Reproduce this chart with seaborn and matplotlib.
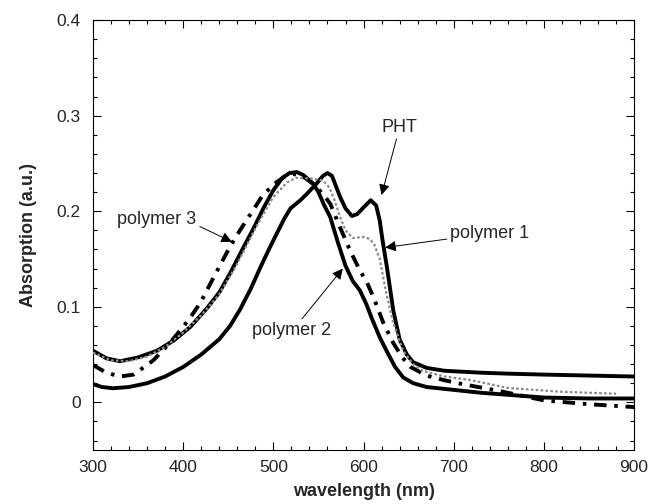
import matplotlib
matplotlib.use("Agg")
import matplotlib.pyplot as plt
import seaborn as sns
from matplotlib.ticker import MultipleLocator

# ---- data ----
pht_x = [300, 310, 322, 340, 360, 380, 400, 420, 440, 452, 463, 475, 485, 495, 504, 512, 519, 530, 538, 548, 555, 560,
         565, 574, 580, 587, 593, 600, 608, 614, 618, 621, 626, 633, 640, 648, 655, 670, 690, 730, 760, 800, 850, 900]
pht_y = [0.019, 0.016, 0.0147, 0.016, 0.020, 0.027, 0.037, 0.050, 0.066, 0.080, 0.097, 0.119, 0.140, 0.160, 0.177, 0.192,
         0.203, 0.2115, 0.219, 0.229, 0.237, 0.240, 0.237, 0.215, 0.203, 0.195, 0.197, 0.204, 0.2115, 0.206, 0.190, 0.170,
         0.141, 0.096, 0.066, 0.050, 0.042, 0.036, 0.033, 0.031, 0.030, 0.029, 0.028, 0.027]

p1_x = [300, 320, 340, 360, 380, 400, 420, 440, 460, 480, 500, 515, 525, 545, 555, 562, 568, 574, 580, 588, 600, 607,
        612, 618, 625, 633, 644, 655, 665, 690, 720, 760, 820, 880]
p1_y = [0.052, 0.044, 0.043, 0.048, 0.058, 0.073, 0.091, 0.113, 0.145, 0.182, 0.215, 0.230, 0.235, 0.234, 0.232, 0.225,
        0.211, 0.194, 0.180, 0.172, 0.173, 0.171, 0.165, 0.150, 0.115, 0.083, 0.054, 0.040, 0.033, 0.027, 0.023, 0.015,
        0.011, 0.009]

p2_x = [300, 315, 330, 350, 371, 390, 408, 426, 440, 452, 464, 478, 490, 500, 510, 518, 526, 533, 544, 550, 556, 563,
        572, 580, 588, 596, 603, 610, 618, 626, 635, 644, 655, 670, 690, 730, 800, 850, 900]
p2_y = [0.054, 0.046, 0.043, 0.047, 0.054, 0.065, 0.079, 0.098, 0.115, 0.135, 0.157, 0.182, 0.205, 0.222, 0.235, 0.240,
        0.241, 0.238, 0.229, 0.220, 0.207, 0.194, 0.166, 0.143, 0.127, 0.117, 0.103, 0.086, 0.068, 0.053, 0.037, 0.026,
        0.020, 0.016, 0.014, 0.010, 0.005, 0.004, 0.004]

p3_x = [300, 315, 330, 345, 367, 385, 400, 408, 419, 435, 452, 463, 474, 487, 500, 512, 522, 532, 545, 555, 563, 574,
        585, 596, 604, 611, 622, 633, 643, 652, 670, 690, 710, 750, 800, 850, 900]
p3_y = [0.039, 0.031, 0.027, 0.029, 0.044, 0.062, 0.079, 0.089, 0.104, 0.133, 0.163, 0.180, 0.196, 0.215, 0.228, 0.236,
        0.239, 0.237, 0.228, 0.218, 0.208, 0.183, 0.159, 0.138, 0.125, 0.110, 0.083, 0.062, 0.047, 0.037, 0.028, 0.023,
        0.019, 0.012, 0.002, -0.002, -0.005]

x_ticks = [300, 400, 500, 600, 700, 800, 900]
y_ticks = [0, 0.1, 0.2, 0.3, 0.4]
y_tick_labels = ["0", "0.1", "0.2", "0.3", "0.4"]

# ---- style ----
sns.set_style("ticks")
plt.rcParams["font.family"] = ["Liberation Sans", "DejaVu Sans"]

fig = plt.figure(figsize=(6.49, 5.04), dpi=100)
ax = fig.add_axes([0.1433, 0.107, 0.8337, 0.853])

sns.lineplot(x=p2_x, y=p2_y, ax=ax, color="black", lw=2.8, sort=False, zorder=3)
sns.lineplot(x=pht_x, y=pht_y, ax=ax, color="black", lw=2.8, sort=False, zorder=3)
sns.lineplot(x=p3_x, y=p3_y, ax=ax, color="black", lw=2.8, sort=False, zorder=3,
             linestyle=(0, (3.2, 2.0, 0.9, 2.0)))
sns.lineplot(x=p1_x, y=p1_y, ax=ax, color="#8c8c8c", lw=1.6, sort=False, zorder=4,
             linestyle=(0, (1.2, 1.0)))

ax.set_xlim(300, 900)
ax.set_ylim(-0.05, 0.4)
ax.set_xticks(x_ticks)
ax.set_xticklabels([str(v) for v in x_ticks])
ax.set_yticks(y_ticks)
ax.set_yticklabels(y_tick_labels)
ax.xaxis.set_minor_locator(MultipleLocator(20))
ax.yaxis.set_minor_locator(MultipleLocator(0.02))
ax.tick_params(which="both", direction="in", top=True, right=True, color="black", width=0.8)
ax.tick_params(which="major", length=6, labelsize=12.5)
ax.tick_params(which="minor", length=3)
ax.tick_params(axis="y", which="major", pad=9)
ax.tick_params(axis="x", which="major", pad=7)
for s in ax.spines.values():
    s.set_linewidth(0.8)
    s.set_color("black")

ax.set_xlabel("wavelength (nm)", fontsize=13, fontweight="bold", labelpad=6)
ax.set_ylabel("Absorption (a.u.)", fontsize=13, fontweight="bold", labelpad=14)

arrow = dict(arrowstyle="-|>", color="black", lw=0.7, mutation_scale=16, shrinkA=0, shrinkB=0)
ax.annotate("PHT", xy=(620, 0.217), xytext=(640, 0.288), fontsize=13, ha="center", va="center",
            arrowprops=arrow)
ax.annotate("polymer 1", xy=(624, 0.162), xytext=(696, 0.177), fontsize=13, ha="left", va="center",
            arrowprops=arrow)
ax.annotate("polymer 3", xy=(454, 0.168), xytext=(371, 0.191), fontsize=13, ha="center", va="center",
            arrowprops=dict(arrow, relpos=(1.0, 0.2)))
ax.annotate("polymer 2", xy=(577, 0.140), xytext=(520, 0.075), fontsize=13, ha="center", va="center",
            arrowprops=dict(arrow, relpos=(0.6, 1.0)))

fig.savefig("out.png", dpi=100)
